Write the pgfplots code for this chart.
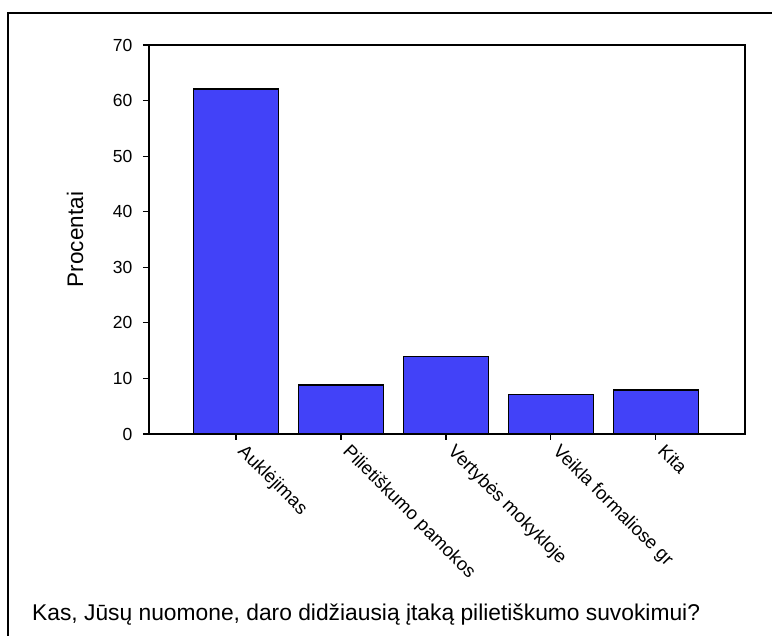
\documentclass[border=0pt]{standalone}
\usepackage{pgfplots}
\pgfplotsset{compat=1.18}
\usepackage{fontspec}
\setmainfont{Liberation Sans}
\definecolor{barblue}{RGB}{66,66,248}
\begin{document}
\begin{tikzpicture}[x=1pt,y=1pt]
\useasboundingbox (0,0) rectangle (772,636);
\draw[line width=2pt] (8,0) -- (8,623) -- (772,623);
\begin{axis}[
  at={(149pt,202pt)}, anchor=south west,
  scale only axis, width=596pt, height=389pt,
  ymin=0, ymax=70, ytick={0,10,...,70},
  xmin=-0.83, xmax=4.85,
  xtick={0,1,2,3,4},
  xticklabels={Auklėjimas, Pilietiškumo pamokos, Vertybės mokykloje, Veikla formaliose gr, Kita},
  xtick pos=bottom, ytick pos=left,
  tick align=outside, major tick length=6pt,
  axis line style={line width=1.6pt},
  tick style={line width=1.2pt, black},
  ybar, bar width=0.81,
  ylabel={Procentai},
  ylabel style={at={(axis description cs:-0.124,0.5)}, anchor=center, font=\fontsize{22.5}{26}\selectfont},
  /pgf/number format/assume math mode=true,
  tick label style={font=\fontsize{17.5}{20}\selectfont},
  yticklabel style={xshift=-7pt},
  xticklabel style={rotate=-45, anchor=north west, xshift=6pt, yshift=9pt, font=\fontsize{18.5}{20}\selectfont},
  clip=false,
]
\addplot[fill=barblue, draw=black, line width=1.5pt] coordinates {(0,62.1) (1,8.8) (2,13.9) (3,7.1) (4,7.9)};
\end{axis}
\node[anchor=base west, inner sep=0pt, font=\fontsize{22.8}{26}\selectfont] at (32,15) {Kas, Jūsų nuomone, daro didžiausią įtaką pilietiškumo suvokimui?};
\end{tikzpicture}
\end{document}
